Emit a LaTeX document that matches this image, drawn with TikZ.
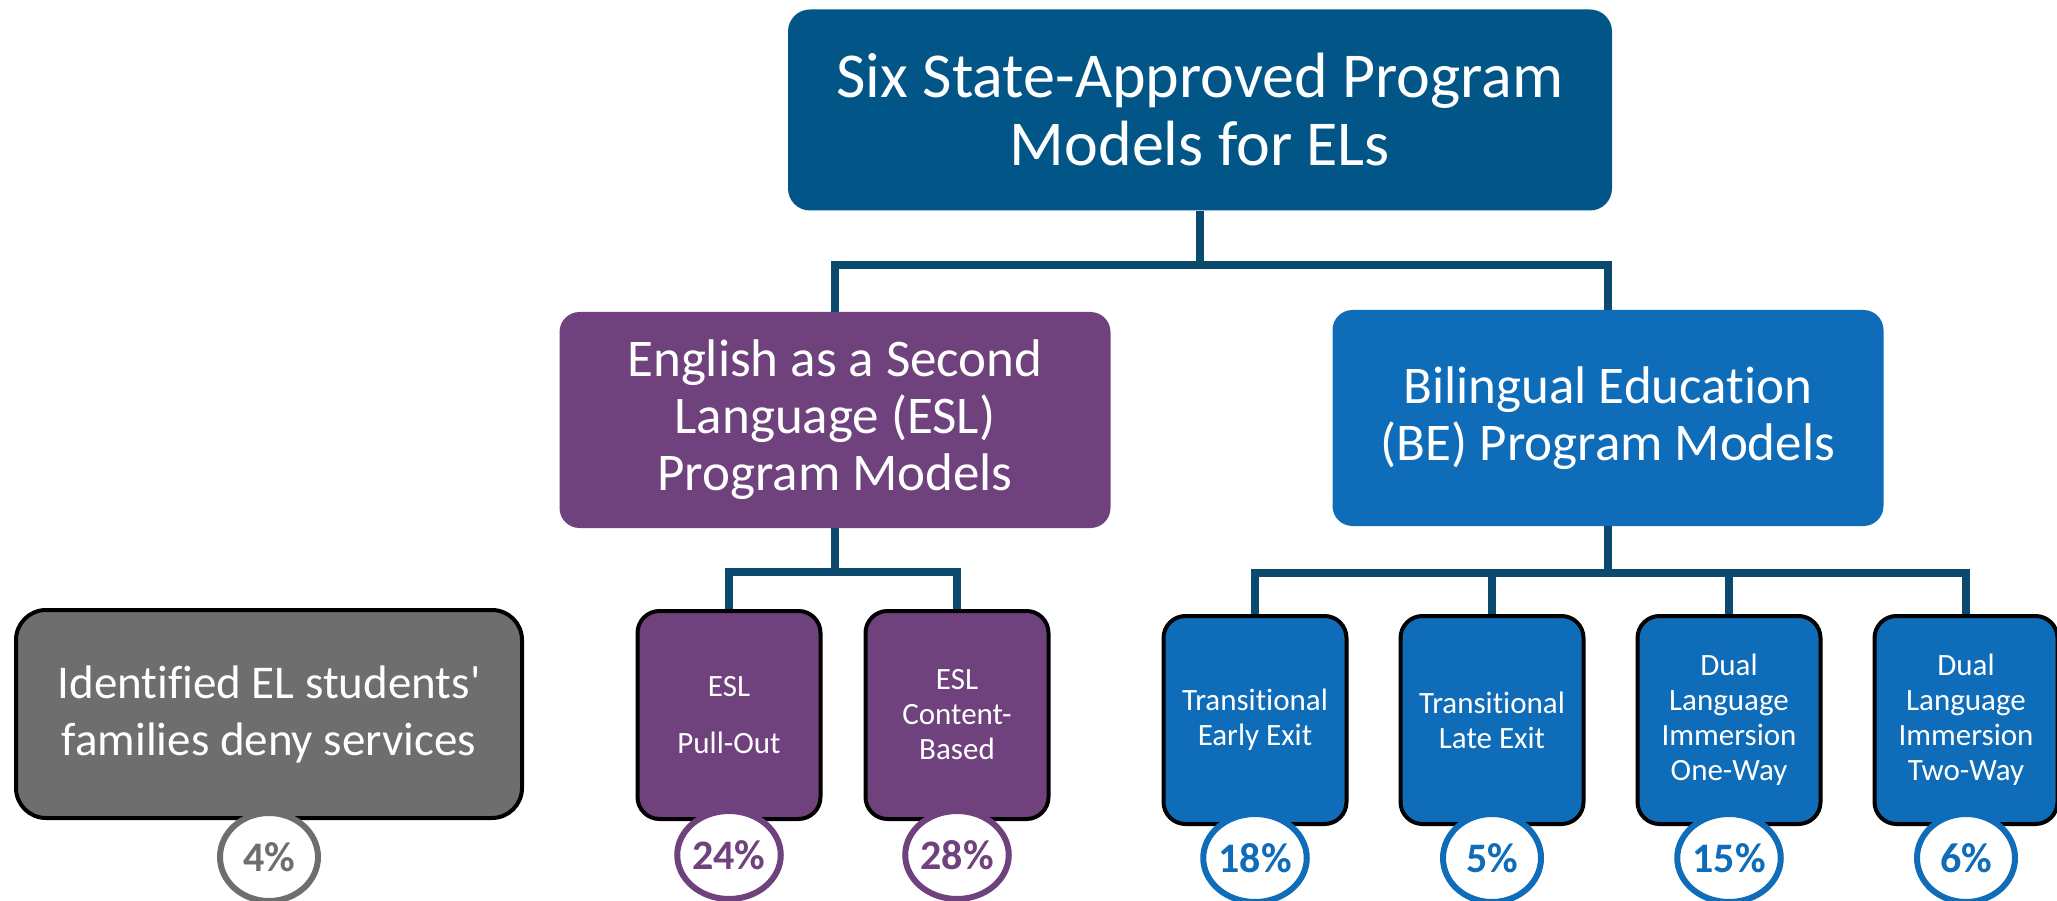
\documentclass[tikz,border=0pt]{standalone}
\usepackage{fontspec}
\setmainfont{Carlito}[Ligatures={NoCommon}]
\usetikzlibrary{shapes,positioning,calc}
\definecolor{topcolor}{RGB}{2,86,135}
\definecolor{linkcolor}{RGB}{12,73,110}
\definecolor{eslcolor}{RGB}{111,66,126}
\definecolor{becolor}{RGB}{14,108,184}
\definecolor{denycolor}{RGB}{110,110,110}

\begin{document}
\begin{tikzpicture}[
    x=1pt, y=-1pt,
    topbox/.style={rectangle, rounded corners=22pt, fill=topcolor,
		text=white, align=center, inner sep=0pt,
		minimum width=824pt, minimum height=201pt,
		font=\fontsize{64}{68}\selectfont},
    midbox/.style={rectangle, rounded corners=20pt, fill=#1,
		text=white, align=center, inner sep=0pt,
		minimum width=551pt, minimum height=216pt,
		font=\fontsize{53}{57}\selectfont},
    smallbox/.style={rectangle, rounded corners=22pt, fill=#1, draw=black,
		line width=4pt, text=white, align=center, inner sep=0pt,
		minimum width=183pt, minimum height=208pt,
		font=\fontsize{31}{35}\selectfont},
    pct/.style={ellipse, fill=white, draw=#1, line width=6pt, text=#1,
		inner sep=0pt, minimum width=98pt, minimum height=88pt,
		font=\fontsize{42}{46}\selectfont\bfseries},
    link/.style={draw=linkcolor, line width=8pt}
    ]

\useasboundingbox (0,0) rectangle (2057,901);

% top level
\node[topbox] (models) at (1200,110) {Six State-Approved Program\\Models for ELs};

% program groups
\node[midbox=eslcolor] (esl) at (835,420) {English as a Second\\Language (ESL)\\Program Models};
\node[midbox=becolor] (be) at (1608,418) {Bilingual Education\\(BE) Program Models};

% families that deny services
\node[smallbox=denycolor, minimum width=506pt, rounded corners=30pt,
	font=\fontsize{47}{57}\selectfont] (deny) at (269,714) {Identified EL students\textquotesingle\\families deny services};

% ESL models
\node[smallbox=eslcolor] (pullout) at (729,715) {ESL\\[22pt]Pull-Out};
\node[smallbox=eslcolor] (content) at (957,715) {ESL\\Content-\\Based};

% BE models
\node[smallbox=becolor] (early) at (1255,720) {Transitional\\Early Exit};
\node[smallbox=becolor] (late) [right=50pt of early] {Transitional\\Late Exit};
\node[smallbox=becolor] (oneway) [right=50pt of late] {Dual\\Language\\Immersion\\One-Way};
\node[smallbox=becolor] (twoway) [right=50pt of oneway] {Dual\\Language\\Immersion\\Two-Way};

% connectors
\draw[link] (models.south) -- ++(0,54) -| (esl.north);
\draw[link] (models.south) -- ++(0,54) -| (be.north);
\draw[link] (esl.south) -- ++(0,44) -| (pullout.north);
\draw[link] (esl.south) -- ++(0,44) -| (content.north);
\draw[link] (be.south) -- ++(0,47) -| (early.north);
\draw[link] (be.south) -- ++(0,47) -| (late.north);
\draw[link] (be.south) -- ++(0,47) -| (oneway.north);
\draw[link] (be.south) -- ++(0,47) -| (twoway.north);

% shares
\node[pct=denycolor] (denypct) at ($(deny.south)+(0,37)$) {4\%};
\node[pct=eslcolor] (pulloutpct) at ($(pullout.south)+(0,34)$) {24\%};
\node[pct=eslcolor] (contentpct) at ($(content.south)+(0,34)$) {28\%};
\node[pct=becolor] (earlypct) at ($(early.south)+(0,32)$) {18\%};
\node[pct=becolor] (latepct) at ($(late.south)+(0,32)$) {5\%};
\node[pct=becolor] (onewaypct) at ($(oneway.south)+(0,32)$) {15\%};
\node[pct=becolor] (twowaypct) at ($(twoway.south)+(0,32)$) {6\%};

\end{tikzpicture}
\end{document}
